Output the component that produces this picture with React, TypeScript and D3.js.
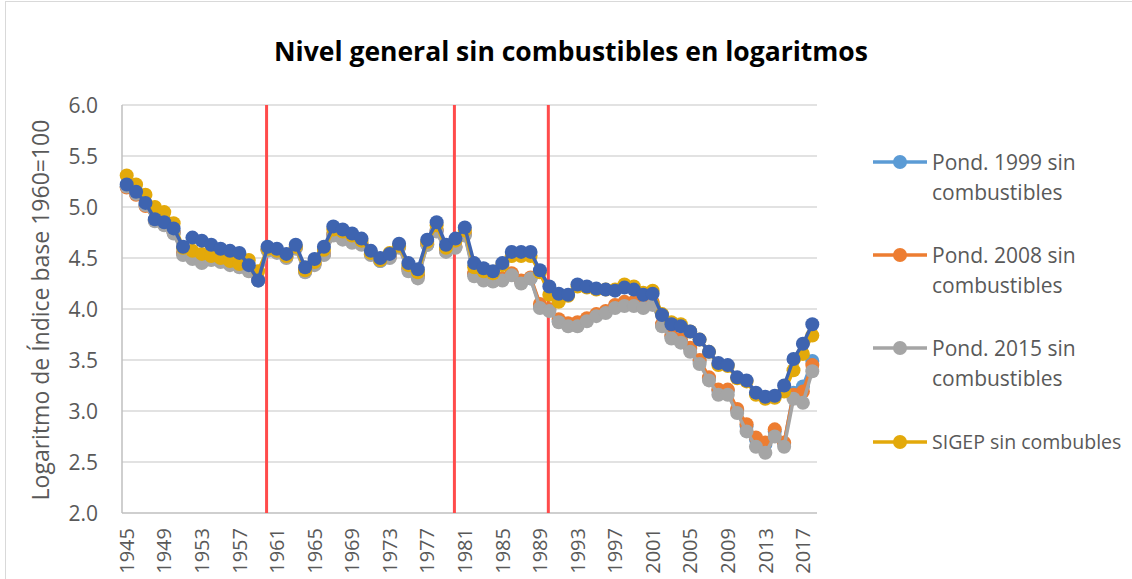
import React from "react";
import * as d3 from "d3";

const years: number[] = d3.range(1945, 2019);

const pond1999: number[] = [
  5.20, 5.13, 5.02, 4.87, 4.83, 4.75, 4.55, 4.51, 4.47, 4.49, 4.47, 4.44, 4.42, 4.38, 4.28,
  4.58, 4.56, 4.51, 4.60, 4.37, 4.44, 4.54, 4.73, 4.69, 4.66, 4.64, 4.54, 4.47, 4.51, 4.61, 4.40, 4.33, 4.63, 4.77, 4.57, 4.61, 4.73,
  4.34, 4.29, 4.28, 4.29, 4.34, 4.27, 4.30, 4.03,
  3.99, 3.88, 3.85, 3.86, 3.90, 3.94, 3.97, 4.03, 4.06, 4.06, 4.03, 4.06,
  3.84, 3.73, 3.69, 3.61, 3.49, 3.32, 3.20, 3.20, 3.01, 2.85, 2.72, 2.67, 2.80, 2.68, 3.18, 3.24, 3.49,
];

const pond2008: number[] = [
  5.19, 5.12, 5.01, 4.87, 4.83, 4.75, 4.55, 4.52, 4.48, 4.50, 4.48, 4.45, 4.42, 4.39, 4.29,
  4.58, 4.56, 4.51, 4.60, 4.37, 4.44, 4.54, 4.73, 4.69, 4.66, 4.64, 4.54, 4.48, 4.51, 4.61, 4.39, 4.32, 4.64, 4.77, 4.57, 4.61, 4.74,
  4.35, 4.30, 4.29, 4.30, 4.35, 4.28, 4.31, 4.05,
  4.00, 3.90, 3.86, 3.87, 3.91, 3.95, 3.98, 4.04, 4.07, 4.07, 4.04, 4.07,
  3.85, 3.74, 3.70, 3.62, 3.50, 3.33, 3.21, 3.21, 3.02, 2.87, 2.74, 2.69, 2.82, 2.69, 3.16, 3.19, 3.45,
];

const pond2015: number[] = [
  5.20, 5.13, 5.02, 4.86, 4.82, 4.74, 4.53, 4.49, 4.45, 4.48, 4.46, 4.43, 4.41, 4.37, 4.28,
  4.57, 4.55, 4.50, 4.59, 4.36, 4.43, 4.53, 4.72, 4.68, 4.65, 4.63, 4.53, 4.47, 4.50, 4.60, 4.37, 4.30, 4.63, 4.76, 4.56, 4.60, 4.72,
  4.32, 4.28, 4.27, 4.28, 4.33, 4.25, 4.30, 4.01,
  3.98, 3.87, 3.83, 3.83, 3.88, 3.93, 3.96, 4.01, 4.03, 4.03, 4.01, 4.04,
  3.83, 3.71, 3.67, 3.58, 3.46, 3.30, 3.16, 3.16, 2.98, 2.80, 2.65, 2.59, 2.75, 2.65, 3.12, 3.08, 3.39,
];

const sigep: number[] = [
  5.31, 5.22, 5.12, 5.00, 4.95, 4.84, 4.60, 4.57, 4.54, 4.52, 4.50, 4.47, 4.44, 4.48, 4.37,
  4.59, 4.57, 4.52, 4.61, 4.38, 4.46, 4.58, 4.78, 4.76, 4.72, 4.67, 4.55, 4.48, 4.55, 4.62, 4.43, 4.36, 4.66, 4.82, 4.60, 4.67, 4.77,
  4.41, 4.37, 4.35, 4.43, 4.52, 4.52, 4.52, 4.36,
  4.14, 4.07, 4.13, 4.22, 4.21, 4.19, 4.19, 4.19, 4.24, 4.22, 4.16, 4.18,
  3.95, 3.87, 3.85, 3.78, 3.70, 3.58, 3.45, 3.44, 3.32, 3.29, 3.16, 3.12, 3.13, 3.19, 3.40, 3.56, 3.74,
];

const serieAdicional: number[] = [
  5.22, 5.15, 5.04, 4.88, 4.85, 4.79, 4.61, 4.70, 4.67, 4.63, 4.59, 4.57, 4.55, 4.43, 4.28,
  4.61, 4.59, 4.54, 4.63, 4.41, 4.49, 4.61, 4.81, 4.78, 4.74, 4.69, 4.57, 4.50, 4.54, 4.64, 4.45, 4.39, 4.68, 4.85, 4.63, 4.69, 4.80,
  4.45, 4.40, 4.37, 4.45, 4.56, 4.56, 4.56, 4.38,
  4.22, 4.15, 4.14, 4.24, 4.22, 4.20, 4.19, 4.18, 4.21, 4.19, 4.14, 4.15,
  3.94, 3.85, 3.83, 3.78, 3.70, 3.58, 3.47, 3.45, 3.33, 3.30, 3.18, 3.14, 3.15, 3.25, 3.51, 3.66, 3.85,
];

const yTicks: number[] = [2.0, 2.5, 3.0, 3.5, 4.0, 4.5, 5.0, 5.5, 6.0];
const xTickYears: number[] = d3.range(1945, 2019, 4);
const markerYears: number[] = [1960, 1980, 1990];

const seriesDefs = [
  { name: "Pond. 1999 sin combustibles", lines: ["Pond. 1999 sin", "combustibles"], values: pond1999, color: "#5B9BD5", legend: true },
  { name: "Pond. 2008 sin combustibles", lines: ["Pond. 2008 sin", "combustibles"], values: pond2008, color: "#ED7D31", legend: true },
  { name: "Pond. 2015 sin combustibles", lines: ["Pond. 2015 sin", "combustibles"], values: pond2015, color: "#A5A5A5", legend: true },
  { name: "SIGEP sin combubles", lines: ["SIGEP sin combubles"], values: sigep, color: "#E3A90A", legend: true },
  { name: "Serie adicional", lines: [], values: serieAdicional, color: "#3E64B0", legend: false },
];

const W = 1132;
const H = 579;
const M = { left: 122, right: 817, top: 105, bottom: 513 };
const FONT = "'Open Sans', 'Liberation Sans', sans-serif";

export default function App() {
  const x = d3.scaleBand<number>().domain(years).range([M.left, M.right]).padding(0);
  const cx = (yr: number) => (x(yr) as number) + x.bandwidth() / 2;
  const y = d3.scaleLinear().domain([2, 6]).range([M.bottom, M.top]);

  const line = d3
    .line<number>()
    .x((_, i) => cx(years[i]))
    .y((d) => y(d));

  const legendY = [162, 255, 348, 442];

  return (
    <svg
      width={W}
      height={H}
      style={{ position: "absolute", left: 0, top: 0, background: "#fff" }}
      fontFamily={FONT}
    >
      <rect x={0} y={0} width={W} height={H} fill="#fff" />
      <rect x={5.5} y={1.5} width={W} height={H + 10} fill="none" stroke="#d9d9d9" strokeWidth={1} />

      <text x={571} y={61} textAnchor="middle" fontSize={26.5} fontWeight="bold" fill="#000">
        Nivel general sin combustibles en logaritmos
      </text>

      {yTicks.map((t) => (
        <g key={t}>
          {t > 2 && (
            <line x1={M.left} x2={M.right} y1={y(t)} y2={y(t)} stroke="#d9d9d9" strokeWidth={1.5} />
          )}
          <text x={98} y={y(t)} dy="0.36em" textAnchor="end" fontSize={21} fill="#595959">
            {t.toFixed(1)}
          </text>
        </g>
      ))}

      <line x1={M.left} x2={M.right} y1={M.bottom} y2={M.bottom} stroke="#bfbfbf" strokeWidth={1.5} />
      <line x1={M.left} x2={M.left} y1={M.top} y2={M.bottom} stroke="#bfbfbf" strokeWidth={1.5} />

      <text
        transform={`translate(41,${(M.top + M.bottom) / 2 + 1}) rotate(-90)`}
        textAnchor="middle"
        dy="0.36em"
        fontSize={23}
        fill="#595959"
      >
        Logaritmo de Índice base 1960=100
      </text>

      {xTickYears.map((yr) => (
        <text
          key={yr}
          transform={`translate(${cx(yr)},${528}) rotate(-90)`}
          textAnchor="end"
          dy="0.36em"
          fontSize={20}
          fill="#595959"
        >
          {yr}
        </text>
      ))}

      {markerYears.map((yr) => (
        <line
          key={yr}
          x1={cx(yr) - 1}
          x2={cx(yr) - 1}
          y1={M.top}
          y2={M.bottom}
          stroke="#FF4B4B"
          strokeWidth={3}
        />
      ))}

      {seriesDefs.map((s) => (
        <g key={s.name}>
          <path d={line(s.values) || ""} fill="none" stroke={s.color} strokeWidth={3.5} strokeLinejoin="round" />
          {s.values.map((v, i) => (
            <circle key={i} cx={cx(years[i])} cy={y(v)} r={7} fill={s.color} />
          ))}
        </g>
      ))}

      {seriesDefs
        .filter((s) => s.legend)
        .map((s, i) => (
          <g key={s.name}>
            <line x1={873} x2={927} y1={legendY[i]} y2={legendY[i]} stroke={s.color} strokeWidth={3.5} />
            <circle cx={900} cy={legendY[i]} r={7} fill={s.color} />
            {s.lines.map((ln, j) => (
              <text
                key={j}
                x={932}
                y={legendY[i] + j * 30}
                dy="0.36em"
                fontSize={s.lines.length === 1 ? 19.5 : 21}
                fill="#595959"
              >
                {ln}
              </text>
            ))}
          </g>
        ))}
    </svg>
  );
}
